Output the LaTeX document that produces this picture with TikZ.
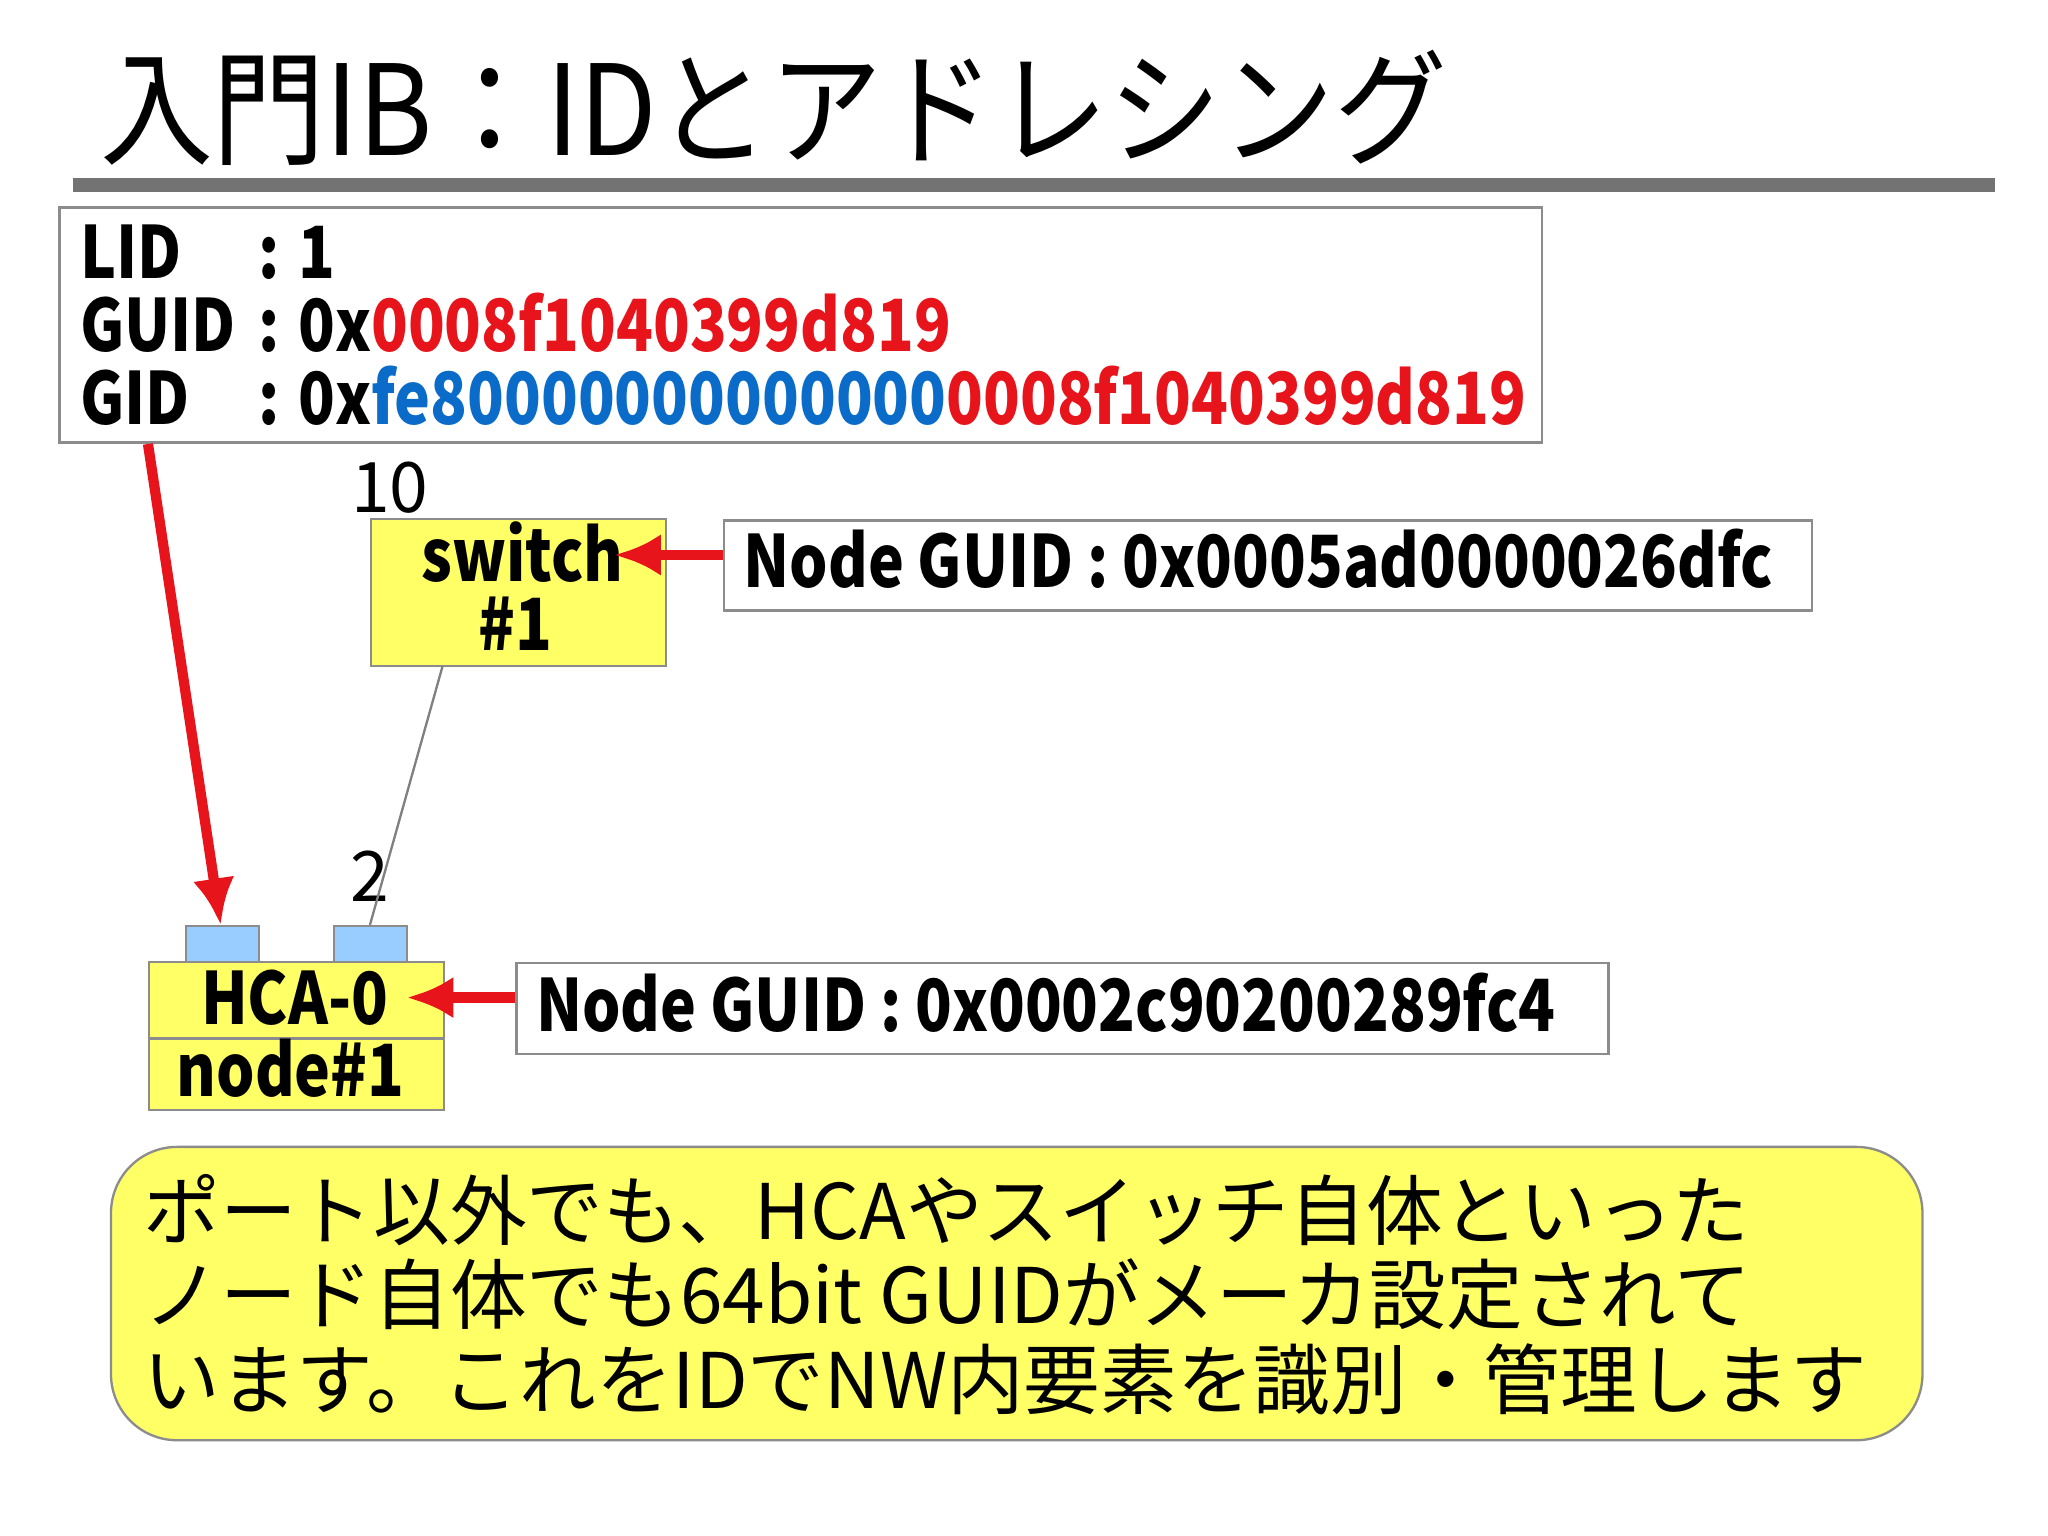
\documentclass[tikz,border=0pt]{standalone}
\usepackage{fontspec}
\setmainfont{Noto Sans CJK JP}
\newfontfamily\lblfont[FakeStretch=0.84]{Noto Sans CJK JP}
\newfontfamily\titlefont[FakeStretch=0.9]{Noto Sans CJK JP}
\definecolor{rd}{HTML}{E8141B}
\definecolor{bl}{HTML}{0A6CC8}
\definecolor{yl}{HTML}{FFFF66}
\definecolor{pt}{HTML}{99CCFF}
\usetikzlibrary{arrows.meta}
\tikzset{
 pbox/.style={draw=black!45,line width=0.5pt,fill=white},
 ybox/.style={draw=black!45,line width=0.5pt,fill=yl},
 portbox/.style={draw=black!45,line width=0.5pt,fill=pt},
 rarrow/.style={draw=rd,line width=2.2pt,-{Latex[length=10pt,width=9pt]}},
 lbl/.style={font=\lblfont\fontsize{15.5}{18}\selectfont\bfseries,inner sep=0pt},
}
\begin{document}
\begin{tikzpicture}[x=0.01cm,y=-0.01cm]
\useasboundingbox[fill=white] (0,0) rectangle (1550,1162);
\node[anchor=base west,inner sep=0pt,font=\titlefont\fontsize{27}{30}\selectfont] (title) at (75,118) {入門IB：IDとアドレシング};
\draw[black!55,line width=3pt] (55,140) coordinate (l1) -- (1510,140) coordinate (l2);
% top info box
\draw[pbox] (45,157) rectangle (1167,335);
\coordinate (ib) at (112,336);
\node[lbl,anchor=base west] (lid) at (60,211) {LID};
\node[lbl,anchor=base west] at (195,211) {: 1};
\node[lbl,anchor=base west] (guid) at (60,266) {GUID};
\node[lbl,anchor=base west] at (195,266) {: 0x\textcolor{rd}{0008f1040399d819}};
\node[lbl,anchor=base west] (gid) at (60,321) {GID};
\node[lbl,anchor=base west] at (195,321) {: 0x\textcolor{bl}{fe80000000000000}\textcolor{rd}{0008f1040399d819}};
% switch
\node[anchor=base,inner sep=0pt,font=\fontsize{15}{18}\selectfont] (p10) at (295,388) {10};
\node[ybox,minimum width=2.23cm,minimum height=1.11cm,anchor=north west,inner sep=0pt] (sw) at (280,392) {};
\node[lbl,anchor=base] at (390,440) {\hspace*{0.2em}switch};
\node[lbl,anchor=base] at (390,492) {\#1};
\node[pbox,anchor=north west,minimum width=8.23cm,minimum height=0.68cm,inner sep=0pt] (g1) at (547,393) {};
\node[lbl,anchor=base west] at (562,445) {Node GUID : 0x0005ad0000026dfc};
\draw[rarrow] (547,420) -- (465,420);
% ports
\node[portbox,anchor=north west,minimum width=0.55cm,minimum height=0.27cm,inner sep=0pt] (pA) at (140,700) {};
\node[portbox,anchor=north west,minimum width=0.55cm,minimum height=0.27cm,inner sep=0pt] (pB) at (252,700) {};
\node[anchor=base,inner sep=0pt,font=\fontsize{15}{18}\selectfont] (p2) at (280,682) {2};
\draw[black!50,line width=0.5pt] (335,504) -- (280,700);
% HCA
\node[ybox,anchor=north west,minimum width=2.23cm,minimum height=0.58cm,inner sep=0pt] (hca) at (112,727) {};
\node[ybox,anchor=north west,minimum width=2.23cm,minimum height=0.54cm,inner sep=0pt] (nd) at (112,785) {};
\node[lbl,anchor=base] at (223,775) {HCA-0};
\node[lbl,anchor=base] at (220,830) {node\#1};
\node[pbox,anchor=north west,minimum width=8.26cm,minimum height=0.69cm,inner sep=0pt] (g2) at (390,728) {};
\node[lbl,anchor=base west] at (405,781) {Node GUID : 0x0002c90200289fc4};
\draw[rarrow] (390,755) -- (308,755);
\draw[rarrow] (ib) -- (167,700);
% bottom note
\draw[ybox,rounded corners=0.5cm] (84,868) rectangle (1455,1090);
\node[anchor=north west,align=left,inner sep=0pt,font=\fontsize{16.5}{18.2}\selectfont] (note) at (108,888) {ポート以外でも、HCAやスイッチ自体といった\\ノード自体でも64bit GUIDがメーカ設定されて\\います。これをIDでNW内要素を識別・管理します};
\end{tikzpicture}
\end{document}
